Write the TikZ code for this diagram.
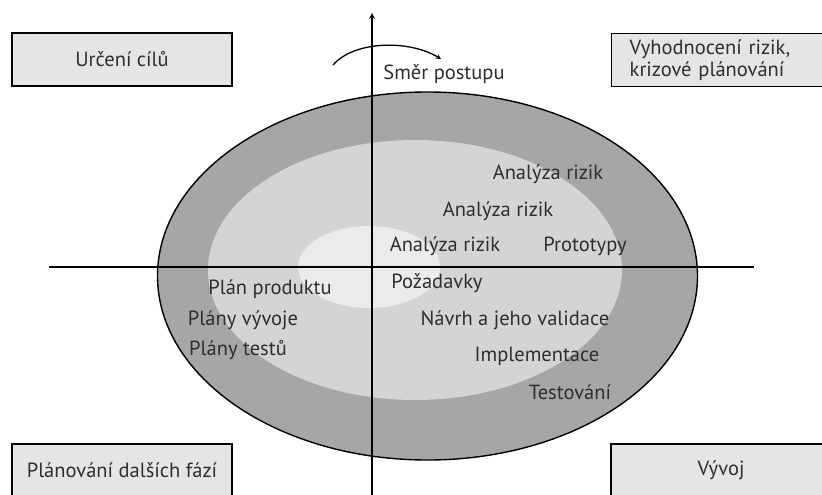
\documentclass[tikz,border=0pt]{standalone}
\usepackage{fontspec}
\setmainfont{PT Sans}

\definecolor{vnejsi}{gray}{0.65}
\definecolor{stredni}{gray}{0.83}
\definecolor{vnitrni}{gray}{0.92}
\definecolor{ramecek}{gray}{0.90}
\definecolor{pismo}{gray}{0.18}

\tikzset{
  box/.style={draw, fill=ramecek, line width=1.4pt, minimum width=220pt, minimum height=53pt, text=pismo},
  popis/.style={text=pismo, inner sep=0pt}
}

\begin{document}
\begin{tikzpicture}[x=1pt, y=-1pt, >=stealth, font=\fontsize{20.5}{22}\selectfont]
            \useasboundingbox (0,0) rectangle (822,495);
            \clip (0,0) rectangle (822,495);

            % Elipsy (spirála)
            \draw[fill=vnejsi, line width=1.4pt] (427.5,276) ellipse [x radius=270, y radius=184];
            \fill[stredni] (415,270) ellipse [x radius=207, y radius=130];
            \fill[vnitrni] (369,267) ellipse [x radius=71, y radius=41];

            % Osy
            \coordinate (osa-s) at (372,13);
            \coordinate (osa-j) at (372,500);
            \coordinate (osa-z) at (49,267);
            \coordinate (osa-v) at (754,267);
            \draw[->, line width=1.6pt] (osa-j) -- (osa-s);
            \draw[line width=1.6pt] (osa-z) -- (osa-v);

            % Směr postupu
            \coordinate (oblouk-a) at (333,65);
            \coordinate (oblouk-b) at (441,59);
            \draw[->, line width=1.3pt] (oblouk-a) .. controls (355,40) and (410,40) .. (oblouk-b);
            \node[popis] (smer) at (444,74) {Směr postupu};

            % Kvadranty
            \node[box] (cile) at (122,59.5) {Určení cílů};
            \node[box, anchor=west, text width=190pt, inner xsep=18pt, align=left] (rizika) at (611,60) {Vyhodnocení rizik,\\krizové plánování};
            \node[box] (faze) at (122,470.5) {Plánování dalších fází};
            \node[box] (vyvoj) at (721,470.5) {Vývoj};

            % Popisky uvnitř
            \node[popis] (riz1) at (548,174) {Analýza rizik};
            \node[popis] (riz2) at (498,211) {Analýza rizik};
            \node[popis] (riz3) at (445,246) {Analýza rizik};
            \node[popis] (proto) at (585,246) {Prototypy};
            \node[popis] (pozad) at (437,283) {Požadavky};
            \node[popis] (navrh) at (515,320) {Návrh a jeho validace};
            \node[popis] (impl) at (537,356) {Implementace};
            \node[popis] (test) at (570,392) {Testování};
            \node[popis] (plan) at (270,289) {Plán produktu};
            \node[popis] (vyv) at (243,320) {Plány vývoje};
            \node[popis] (testy) at (238,350) {Plány testů};
        \end{tikzpicture}
\end{document}
